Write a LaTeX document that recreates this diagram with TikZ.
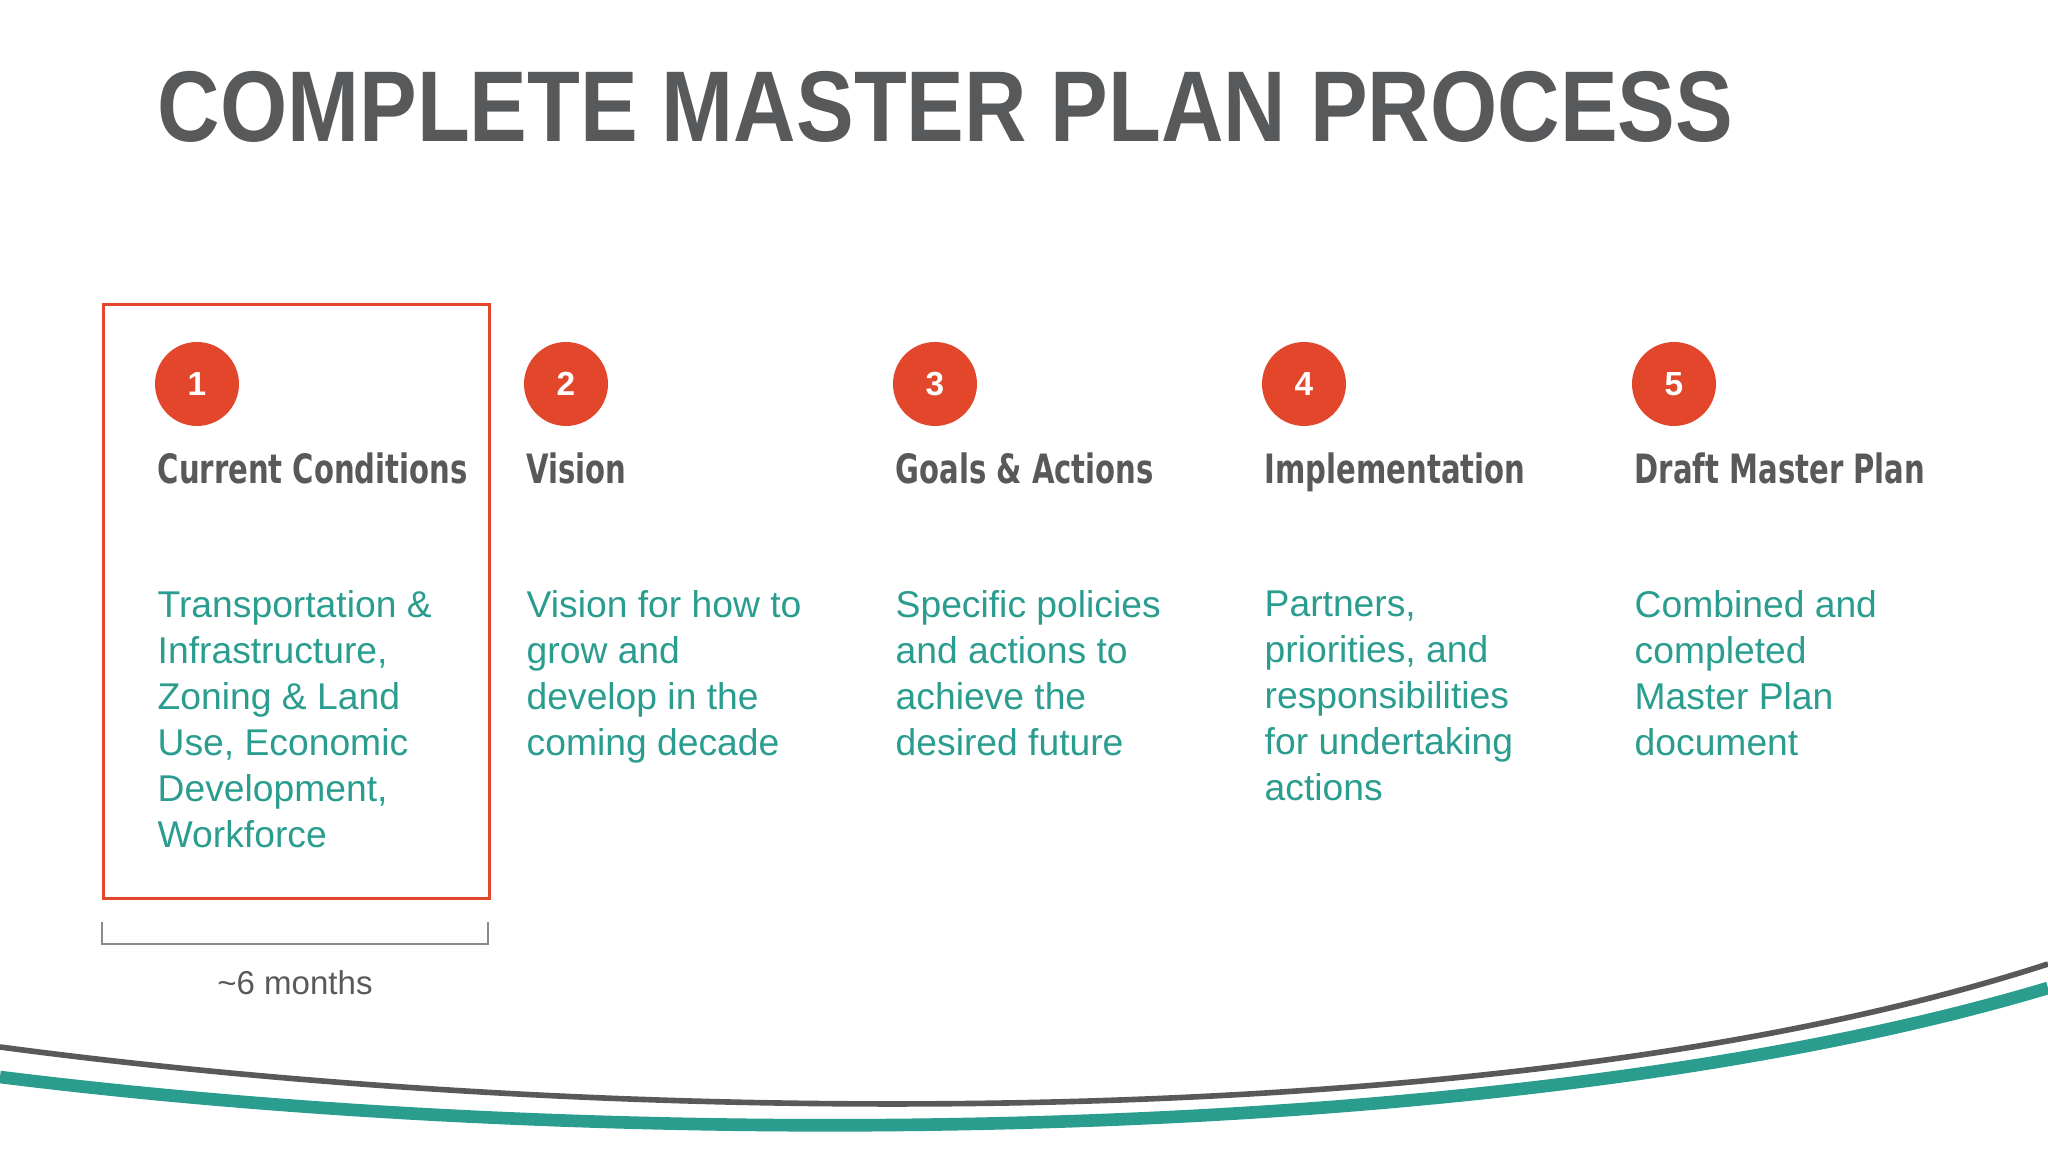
\documentclass[tikz,border=0pt]{standalone}
\usepackage{fontspec}
\setmainfont{Liberation Sans}
\newfontfamily\headfont{DejaVu Sans Condensed}
\definecolor{tgray}{HTML}{58595B}
\definecolor{tred}{HTML}{E2472C}
\definecolor{tteal}{HTML}{2A9D8F}
\begin{document}
\begin{tikzpicture}[x=1cm,y=1cm,
  num/.style={circle,fill=tred,minimum size=0.84cm,inner sep=0pt,text=white,font=\bfseries\fontsize{9.5}{11}\selectfont},
  head/.style={anchor=base west,inner sep=0pt,text=tgray,font=\headfont\bfseries\fontsize{11.5}{13}\selectfont},
  body/.style={anchor=north west,inner sep=0pt,text=tteal,align=left,font=\fontsize{10.6}{13.1}\selectfont}]
\useasboundingbox (0,0) rectangle (20.48,11.52);
\node[anchor=base west,inner sep=0pt,text=tgray,font=\bfseries\fontsize{28.6}{32}\selectfont] (title) at (1.57,10.1) {\scalebox{0.86}[1]{COMPLETE MASTER PLAN PROCESS}};
\node[draw=tred,line width=0.9pt,minimum width=3.86cm,minimum height=5.94cm,anchor=north west] (box) at (1.02,8.49) {};
\foreach \i/\x/\h/\b in {1/1.57/Current Conditions/{Transportation \&\\Infrastructure,\\Zoning \& Land\\Use, Economic\\Development,\\Workforce},
 2/5.26/Vision/{Vision for how to\\grow and\\develop in the\\coming decade},
 3/8.95/Goals \& Actions/{Specific policies\\and actions to\\achieve the\\desired future},
 4/12.64/Implementation/{Partners,\\priorities, and\\responsibilities\\for undertaking\\actions},
 5/16.34/Draft Master Plan/{Combined and\\completed\\Master Plan\\document}}{
 \node[num] (n\i) at (\x+0.40,7.68) {\i};
 \node[head] (h\i) at (\x,6.68) {\scalebox{0.8}[1]{\h}};
 \node[body] (b\i) at (\x,5.62) {\b};
}
\coordinate (bl) at (1.02,2.30); \coordinate (br) at (4.88,2.30);
\draw[tgray!70,line width=0.7pt] (bl) -- ++(0,-0.22) -- ([yshift=-0.22cm]br) -- (br);
\node[anchor=base,text=tgray,font=\fontsize{9.4}{11}\selectfont] (mo) at (2.95,1.57) {\textasciitilde 6 months};
\coordinate (gL) at (0,1.05); \coordinate (gR) at (20.48,1.88);
\coordinate (tL) at (0,0.75); \coordinate (tR) at (20.48,1.64);
\draw[tgray,line width=1.6pt] (gL) .. controls (6,0.25) and (15,0.1) .. (gR);
\draw[tteal,line width=3.6pt] (tL) .. controls (6,0.0) and (15,0.0) .. (tR);
\end{tikzpicture}
\end{document}
